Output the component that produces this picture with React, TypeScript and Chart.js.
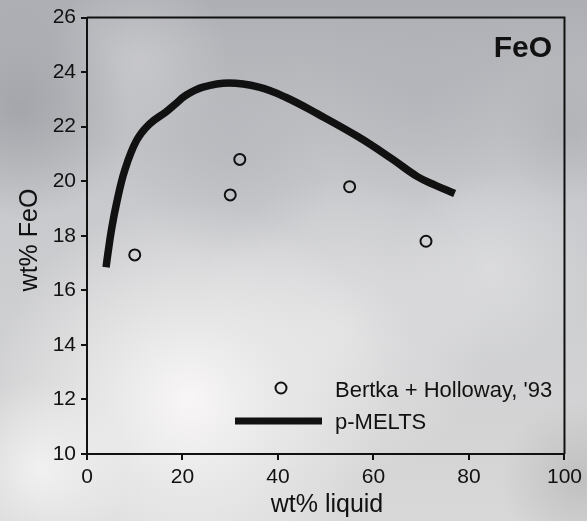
import React, { useEffect, useRef } from "react";
import { Chart, registerables } from "chart.js";

Chart.register(...registerables);

// Experimental data (Bertka + Holloway, '93): wt% liquid vs wt% FeO
const expLiquid = [10, 30, 32, 55, 71];
const expFeO = [17.3, 19.5, 20.8, 19.8, 17.8];

// p-MELTS model curve
const meltsLiquid = [4, 4.3, 5.2, 6.2, 7.9, 10.4, 13.1, 16.6, 18.3, 20.8, 24.3, 29.7, 36, 41.6, 48.4, 56.8, 63.8, 69.2, 73, 77];
const meltsFeO = [16.85, 17.25, 18.3, 19.2, 20.4, 21.5, 22.1, 22.55, 22.8, 23.16, 23.45, 23.6, 23.45, 23.08, 22.46, 21.63, 20.83, 20.17, 19.85, 19.55];

const xTicks = [0, 20, 40, 60, 80, 100];
const yTicks = [10, 12, 14, 16, 18, 20, 22, 24, 26];

const W = 587;
const H = 521;
const FONT = "'Liberation Sans', Arial, Helvetica, sans-serif";
const INK = "#111";

// Soft cloudy backdrop behind the whole figure
const cloudBackground = {
  id: "cloudBackground",
  beforeDraw(chart: any) {
    const ctx = chart.ctx as CanvasRenderingContext2D;
    ctx.save();
    const g = ctx.createLinearGradient(0, 0, 0, H);
    g.addColorStop(0, "#aeafb4");
    g.addColorStop(0.4, "#c9cacd");
    g.addColorStop(1, "#d8d8d8");
    ctx.fillStyle = g;
    ctx.fillRect(0, 0, W, H);
    const blob = (x: number, y: number, r: number, c: string) => {
      const rg = ctx.createRadialGradient(x, y, 0, x, y, r);
      rg.addColorStop(0, c);
      rg.addColorStop(1, c.replace(/[\d.]+\)$/, "0)"));
      ctx.fillStyle = rg;
      ctx.fillRect(0, 0, W, H);
    };
    blob(190, 400, 200, "rgba(250,248,248,0.95)");
    blob(40, 470, 90, "rgba(246,246,246,0.8)");
    blob(340, 330, 150, "rgba(240,239,240,0.55)");
    blob(490, 270, 100, "rgba(234,234,237,0.5)");
    blob(140, 60, 90, "rgba(218,218,222,0.45)");
    blob(20, 110, 110, "rgba(145,146,152,0.55)");
    blob(230, 150, 110, "rgba(172,174,180,0.4)");
    blob(420, 90, 120, "rgba(172,174,180,0.45)");
    blob(570, 130, 70, "rgba(165,166,171,0.45)");
    blob(580, 480, 80, "rgba(170,170,170,0.5)");
    ctx.restore();
  },
};

// Frame, panel label, axis titles and legend
const annotations = {
  id: "annotations",
  afterDraw(chart: any) {
    const ctx = chart.ctx as CanvasRenderingContext2D;
    const a = chart.chartArea;
    ctx.save();
    ctx.strokeStyle = INK;
    ctx.lineWidth = 2;
    ctx.beginPath();
    ctx.moveTo(a.left, a.top);
    ctx.lineTo(a.right, a.top);
    ctx.lineTo(a.right, a.bottom);
    ctx.stroke();

    ctx.fillStyle = INK;
    ctx.font = `bold 30px ${FONT}`;
    ctx.textAlign = "right";
    ctx.textBaseline = "alphabetic";
    ctx.fillText("FeO", 552, 57);

    ctx.font = `25px ${FONT}`;
    ctx.textAlign = "center";
    ctx.fillText("wt% liquid", 327, 512);

    ctx.save();
    ctx.translate(37, 240);
    ctx.rotate(-Math.PI / 2);
    ctx.fillText("wt% FeO", 0, 0);
    ctx.restore();

    // legend
    ctx.font = `22px ${FONT}`;
    ctx.textAlign = "left";
    ctx.fillText("Bertka + Holloway, '93", 335, 397);
    ctx.fillText("p-MELTS", 335, 429);
    ctx.lineWidth = 2;
    ctx.beginPath();
    ctx.arc(281, 388, 5.5, 0, Math.PI * 2);
    ctx.stroke();
    ctx.lineWidth = 7;
    ctx.beginPath();
    ctx.moveTo(235, 421);
    ctx.lineTo(322, 421);
    ctx.stroke();
    ctx.restore();
  },
};

export default function App() {
  const ref = useRef<HTMLCanvasElement | null>(null);

  useEffect(() => {
    if (!ref.current) return;
    const chart = new Chart(ref.current, {
      type: "scatter",
      data: {
        datasets: [
          {
            type: "line",
            label: "p-MELTS",
            data: meltsLiquid.map((x, i) => ({ x, y: meltsFeO[i] })),
            borderColor: INK,
            borderWidth: 7.5,
            pointRadius: 0,
            tension: 0.4,
            fill: false,
          } as any,
          {
            label: "Bertka + Holloway, '93",
            data: expLiquid.map((x, i) => ({ x, y: expFeO[i] })),
            pointRadius: 5.5,
            pointBorderWidth: 2,
            borderColor: INK,
            backgroundColor: "rgba(0,0,0,0)",
          },
        ],
      },
      options: {
        responsive: false,
        animation: false,
        layout: { padding: { top: 15, right: 19, left: 0, bottom: 0 } },
        plugins: { legend: { display: false }, tooltip: { enabled: false } },
        scales: {
          x: {
            type: "linear",
            min: 0,
            max: 100,
            afterFit: (s: any) => {
              s.height = 67;
            },
            afterBuildTicks: (s: any) => {
              s.ticks = xTicks.map((v) => ({ value: v }));
            },
            ticks: { color: INK, font: { family: FONT, size: 21 }, padding: 5 },
            grid: { drawOnChartArea: false, drawTicks: true, tickLength: 6, color: INK, lineWidth: 2 },
            border: { display: true, color: INK, width: 2 },
          },
          y: {
            type: "linear",
            min: 10,
            max: 26,
            afterFit: (s: any) => {
              s.width = 87;
            },
            afterBuildTicks: (s: any) => {
              s.ticks = yTicks.map((v) => ({ value: v }));
            },
            ticks: { color: INK, font: { family: FONT, size: 21 }, padding: 5 },
            grid: { drawOnChartArea: false, drawTicks: true, tickLength: 6, color: INK, lineWidth: 2 },
            border: { display: true, color: INK, width: 2 },
          },
        },
      },
      plugins: [cloudBackground, annotations],
    });
    return () => chart.destroy();
  }, []);

  return (
    <div style={{ position: "fixed", left: 0, top: 0, width: W, height: H }}>
      <canvas ref={ref} width={W} height={H} style={{ width: W, height: H, display: "block" }} />
    </div>
  );
}
